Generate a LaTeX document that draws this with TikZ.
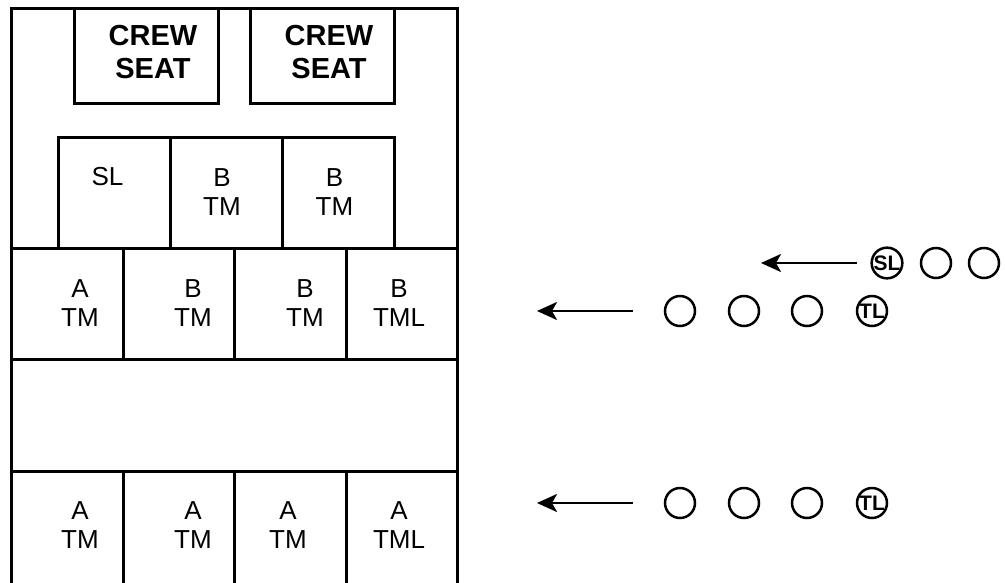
\documentclass[tikz,border=0pt]{standalone}
\usepackage{fontspec}
\setmainfont{Liberation Sans}
\usetikzlibrary{arrows.meta}
\begin{document}
\begin{tikzpicture}[x=1pt,y=-1pt,
  box/.style={draw=black,line width=2.5pt,rectangle,anchor=north west,inner sep=0pt},
  lbl/.style={align=center,font=\fontsize{26}{29.5}\selectfont,inner sep=0pt},
  crew/.style={align=center,font=\fontsize{29}{32.5}\selectfont\bfseries,inner sep=0pt},
  man/.style={draw=black,line width=2.5pt,circle,minimum size=30pt,inner sep=0pt},
  lead/.style={man,font=\fontsize{21}{21}\selectfont\bfseries},
  mv/.style={line width=2.5pt,-{Stealth[length=20pt,width=18pt,inset=5pt]}}]
\useasboundingbox (0,0) rectangle (1005,582);
% outer frame
\node[box,minimum width=446pt,minimum height=600pt] (frame) at (10,7) {};
% crew seats
\node[box,minimum width=144pt,minimum height=95pt] (cs1) at (73,7) {};
\node[box,minimum width=144pt,minimum height=95pt] (cs2) at (249,7) {};
\node[crew] (cs1t) at (153,52) {CREW\\SEAT};
\node[crew] (cs2t) at (329,52) {CREW\\SEAT};
% row 2
\node[box,minimum width=112pt,minimum height=111pt] (r2a) at (57,136) {};
\node[box,minimum width=112pt,minimum height=111pt] (r2b) at (169,136) {};
\node[box,minimum width=112pt,minimum height=111pt] (r2c) at (281,136) {};
\node[lbl,anchor=base] (r2at) at (107.5,185) {SL};
\node[lbl] (r2bt) at (222,192) {B\\TM};
\node[lbl] (r2ct) at (334.5,192) {B\\TM};
% row 3
\node[box,minimum width=112pt,minimum height=111pt] (r3a) at (10,247) {};
\node[box,minimum width=111pt,minimum height=111pt] (r3b) at (122,247) {};
\node[box,minimum width=112pt,minimum height=111pt] (r3c) at (233,247) {};
\node[box,minimum width=111pt,minimum height=111pt] (r3d) at (345,247) {};
\node[lbl] (r3at) at (80,303) {A\\TM};
\node[lbl] (r3bt) at (193,303) {B\\TM};
\node[lbl] (r3ct) at (305,303) {B\\TM};
\node[lbl] (r3dt) at (399,303) {B\\TML};
% row 4
\node[box,minimum width=112pt,minimum height=130pt] (r4a) at (10,470) {};
\node[box,minimum width=111pt,minimum height=130pt] (r4b) at (122,470) {};
\node[box,minimum width=112pt,minimum height=130pt] (r4c) at (233,470) {};
\node[box,minimum width=111pt,minimum height=130pt] (r4d) at (345,470) {};
\node[lbl] (r4at) at (80,525) {A\\TM};
\node[lbl] (r4bt) at (193,525) {A\\TM};
\node[lbl] (r4ct) at (288,525) {A\\TM};
\node[lbl] (r4dt) at (399,525) {A\\TML};
% upper formation
\node[lead] (sl) at (887,263) {SL};
\node[man] (u2) at (936,263) {};
\node[man] (u3) at (984,263) {};
\coordinate (usa) at (857,263);
\coordinate (uea) at (761,263);
\draw[mv] (usa) -- (uea);
% middle formation
\node[man] (m1) at (680,311) {};
\node[man] (m2) at (744,311) {};
\node[man] (m3) at (807,311) {};
\node[lead] (mtl) at (872,311) {TL};
\coordinate (msa) at (633,311);
\coordinate (mea) at (537,311);
\draw[mv] (msa) -- (mea);
% lower formation
\node[man] (b1) at (680,503) {};
\node[man] (b2) at (744,503) {};
\node[man] (b3) at (807,503) {};
\node[lead] (btl) at (872,503) {TL};
\coordinate (bsa) at (633,503);
\coordinate (bea) at (537,503);
\draw[mv] (bsa) -- (bea);
\end{tikzpicture}
\end{document}
